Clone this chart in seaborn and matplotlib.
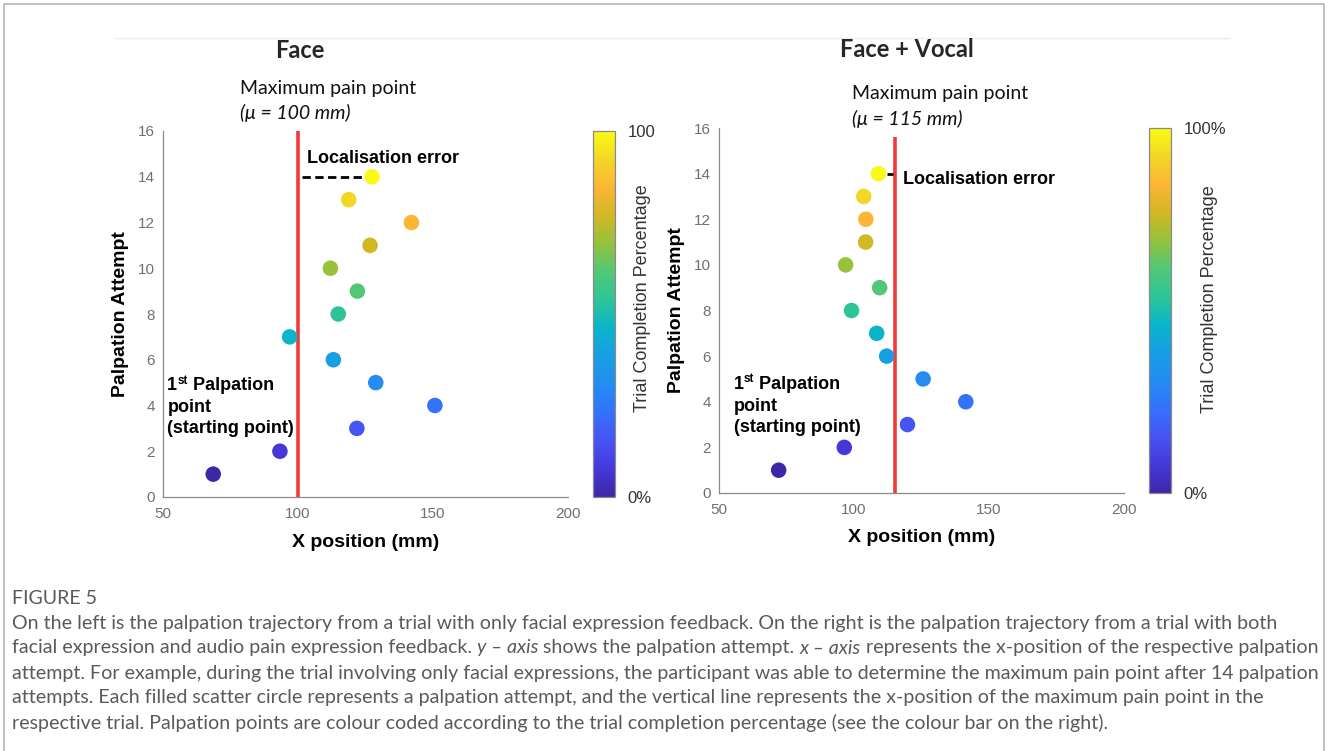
import matplotlib
matplotlib.use("Agg")
import matplotlib.pyplot as plt
from matplotlib.colors import LinearSegmentedColormap, Normalize
from matplotlib.cm import ScalarMappable
from matplotlib.font_manager import FontProperties
from matplotlib.transforms import IdentityTransform
from matplotlib.ticker import FixedLocator
from matplotlib.lines import Line2D
import seaborn as sns
import pandas as pd

# ---------------- data ----------------
attempts = list(range(1, 15))
face_x = [68.6, 93.3, 121.8, 150.7, 128.8, 113.1, 96.9, 114.9, 122.0, 112.0, 126.7, 142.0, 118.8, 127.4]
vocal_x = [72.1, 96.4, 119.8, 141.4, 125.6, 112.1, 108.4, 99.1, 109.5, 96.9, 104.3, 104.4, 103.6, 109.1]
peak_x = [100, 115]
peak_line_top = [16, 15.6]
error_start = [101.3, 112.4]
error_end = [125.1, 114.5]
error_y = [14, 14]
titles = ["Face", "Face + Vocal"]
peak_title = "Maximum pain point"
peak_labels = ["(\u03bc = 100 mm)", "(\u03bc = 115 mm)"]
cbar_top_labels = ["100", "100%"]
cbar_bottom_label = "0%"
cbar_label = "Trial Completion Percentage"
x_label = "X position (mm)"
y_label = "Palpation Attempt"
error_label = "Localisation error"
x_ticks = [50, 100, 150, 200]
y_ticks = [0, 2, 4, 6, 8, 10, 12, 14, 16]

caption_title = "FIGURE 5"
caption_lines = [
    [("On the left is the palpation trajectory from a trial with only facial expression feedback. On the right is the palpation trajectory from a trial with both", False)],
    [("facial expression and audio pain expression feedback. ", False), ("y \u2013 axis", True),
     (" shows the palpation attempt. ", False), ("x \u2013 axis", True),
     (" represents the x-position of the respective palpation", False)],
    [("attempt. For example, during the trial involving only facial expressions, the participant was able to determine the maximum pain point after 14 palpation", False)],
    [("attempts. Each filled scatter circle represents a palpation attempt, and the vertical line represents the x-position of the maximum pain point in the", False)],
    [("respective trial. Palpation points are colour coded according to the trial completion percentage (see the colour bar on the right).", False)],
]

# parula-like colormap (anchor position, colour)
parula_anchors = [
    (0.000, (0.24, 0.15, 0.66)),
    (0.077, (0.27, 0.22, 0.85)),
    (0.154, (0.28, 0.33, 0.96)),
    (0.231, (0.20, 0.45, 0.98)),
    (0.308, (0.14, 0.55, 0.95)),
    (0.385, (0.09, 0.62, 0.89)),
    (0.462, (0.04, 0.71, 0.79)),
    (0.538, (0.18, 0.77, 0.60)),
    (0.615, (0.32, 0.78, 0.47)),
    (0.692, (0.58, 0.76, 0.24)),
    (0.769, (0.82, 0.72, 0.14)),
    (0.846, (0.99, 0.71, 0.21)),
    (0.923, (0.95, 0.84, 0.15)),
    (1.000, (0.98, 0.98, 0.08)),
]
parula = LinearSegmentedColormap.from_list("parula", parula_anchors)

# ---------------- style ----------------
sns.set_theme(style="white")
plt.rcParams["font.family"] = ["Liberation Sans", "DejaVu Sans"]
ARIAL = ["Liberation Sans", "DejaVu Sans"]
CALIBRI = ["Lato", "DejaVu Sans"]
CAPTION_FONT = ["Lato", "DejaVu Sans"]

W, H = 1328, 751
fig = plt.figure(figsize=(W / 100, H / 100), dpi=100)
fig.patch.set_facecolor("white")
renderer = fig.canvas.get_renderer()


def rect(x0, y0, x1, y1):
    return [x0 / W, 1 - y1 / H, (x1 - x0) / W, (y1 - y0) / H]


def text_width(s, fp):
    w1, _, _ = renderer.get_text_width_height_descent(s + "|", fp, ismath=False)
    w2, _, _ = renderer.get_text_width_height_descent("|", fp, ismath=False)
    return w1 - w2


def place_runs(x, y, runs):
    """runs: list of (text, font dict, dy_px). x, y in display pixels."""
    cur = x
    for s, kw, dy in runs:
        fp = FontProperties(family=kw.get("family"), size=kw.get("size"),
                            weight=kw.get("weight", "normal"), style=kw.get("style", "normal"))
        fig.text(cur, y + dy, s, transform=IdentityTransform(), fontproperties=fp,
                 color=kw.get("color", "black"), ha="left", va="center")
        cur += text_width(s, fp)


# faint rule at the top (drawn first so it stays behind the titles)
fig.add_artist(Line2D([115 / W, 1230 / W], [1 - 38 / H, 1 - 38 / H],
                      transform=fig.transFigure, color="#ededed", lw=1, zorder=0))

layouts = [
    dict(ax=rect(163, 131, 568, 497), cax=rect(593, 131, 615, 497),
         title_xy=(0.338, 1.221), peak_xy=(78.4, 17.86, 16.8), err_xy=(103.3, 14.8),
         first_xy=(51.6, 4.87, 3.93, 2.98), cbar_label_xy=(2.27, 0.544), dashed=True),
    dict(ax=rect(719, 128, 1124, 493), cax=rect(1149, 128, 1171, 493),
         title_xy=(0.464, 1.214), peak_xy=(99.3, 17.5, 16.4), err_xy=(118.1, 13.73),
         first_xy=(55.4, 4.76, 3.8, 2.87), cbar_label_xy=(2.75, 0.53), dashed=False),
]
xs_all = [face_x, vocal_x]
norm = Normalize(vmin=attempts[0], vmax=attempts[-1])

for i, lay in enumerate(layouts):
    ax = fig.add_axes(lay["ax"])
    df = pd.DataFrame({"x": xs_all[i], "attempt": attempts})
    sns.scatterplot(data=df, x="x", y="attempt", hue="attempt", palette=parula,
                    hue_norm=(attempts[0], attempts[-1]), s=125, linewidth=0,
                    legend=False, ax=ax, zorder=3)
    ax.plot([peak_x[i], peak_x[i]], [0, peak_line_top[i]], color="#f23a3a", lw=2.6,
            zorder=2, solid_capstyle="butt")
    if lay["dashed"]:
        ax.plot([error_start[i], error_end[i]], [error_y[i], error_y[i]], color="black",
                lw=2.0, ls=(0, (3, 1.6)), zorder=2)
    else:
        ax.plot([error_start[i], error_end[i]], [error_y[i], error_y[i]], color="black",
                lw=2.0, zorder=2, solid_capstyle="butt")
    ax.set_xlim(50, 200)
    ax.set_ylim(0, 16)
    ax.set_xticks(x_ticks)
    ax.set_yticks(y_ticks)
    for side in ["top", "right"]:
        ax.spines[side].set_visible(False)
    for side in ["left", "bottom"]:
        ax.spines[side].set_color("#8a8a8a")
        ax.spines[side].set_linewidth(0.9)
    ax.tick_params(axis="both", direction="in", length=4, width=0.8, color="#8a8a8a",
                   labelcolor="#707070", labelsize=11)
    ax.tick_params(axis="y", pad=6)
    ax.tick_params(axis="x", pad=7)
    ax.set_xlabel(x_label, fontsize=14, fontweight="bold", family=ARIAL, color="black")
    ax.set_ylabel(y_label, fontsize=14, fontweight="bold", family=ARIAL, color="black")
    ax.xaxis.set_label_coords(0.5, -0.10)
    ax.yaxis.set_label_coords(-0.083, 0.5)
    ax.set_facecolor("white")

    # titles & annotations
    ax.text(lay["title_xy"][0], lay["title_xy"][1], titles[i], transform=ax.transAxes,
            ha="center", va="center", fontsize=17, fontweight="bold", family=CALIBRI)
    px, py1, py2 = lay["peak_xy"]
    ax.text(px, py1, peak_title, ha="left", va="center", fontsize=14, family=CALIBRI,
            color="#111111", clip_on=False)
    ax.text(px, py2, peak_labels[i], ha="left", va="center", fontsize=14, family=CALIBRI,
            style="italic", color="#111111", clip_on=False)
    ax.text(lay["err_xy"][0], lay["err_xy"][1], error_label, ha="left", va="center",
            fontsize=13, fontweight="bold", family=ARIAL, color="black")

    fx, fy1, fy2, fy3 = lay["first_xy"]
    bold13 = dict(family=ARIAL, size=13, weight="bold")
    bold8 = dict(family=ARIAL, size=8.5, weight="bold")
    x0, y0 = ax.transData.transform((fx, fy1))
    place_runs(x0, y0, [("1", bold13, 0), ("st", bold8, 5), (" Palpation", bold13, 0)])
    x0, y0 = ax.transData.transform((fx, fy2))
    place_runs(x0, y0, [("point", bold13, 0)])
    x0, y0 = ax.transData.transform((fx, fy3))
    place_runs(x0, y0, [("(starting point)", bold13, 0)])

    # colorbar
    cax = fig.add_axes(lay["cax"])
    cb = fig.colorbar(ScalarMappable(norm=norm, cmap=parula), cax=cax)
    cb.outline.set_edgecolor("#8a8a8a")
    cb.outline.set_linewidth(0.9)
    cb.set_ticks([attempts[0], attempts[-1]])
    cb.set_ticklabels([cbar_bottom_label, cbar_top_labels[i]])
    cax.yaxis.set_minor_locator(FixedLocator([attempts[0] + (attempts[-1] - attempts[0]) * k / 7 for k in range(1, 7)]))
    cax.tick_params(which="major", length=0, labelsize=12, labelcolor="#333333", pad=9)
    cax.tick_params(which="minor", direction="in", length=3, width=0.9, color="#555555",
                    right=True, left=False)
    cax.text(lay["cbar_label_xy"][0], lay["cbar_label_xy"][1], cbar_label,
             transform=cax.transAxes, rotation=90, ha="center", va="center",
             fontsize=13, color="#333333", family=ARIAL)

# ---------------- caption ----------------
cap_color = "#5a5a5a"
fp_test = FontProperties(family=CAPTION_FONT, size=12)
w_line3 = text_width(caption_lines[2][0][0], fp_test)
cap_size = 12 * 1300 / w_line3

place_runs(12, H - 598, [(caption_title, dict(family=CAPTION_FONT, size=cap_size, color=cap_color), 0)])
for j, line in enumerate(caption_lines):
    runs = [(s, dict(family=CAPTION_FONT, size=cap_size, color=cap_color,
                     style="italic" if it else "normal"), 0) for s, it in line]
    place_runs(12, H - (623 + 25 * j), runs)

# frame
frame = dict(transform=fig.transFigure, color="#b8b8b8", lw=1.2)
fig.add_artist(Line2D([4 / W, 4 / W], [0, 1 - 4 / H], **frame))
fig.add_artist(Line2D([4 / W, 1324 / W], [1 - 4 / H, 1 - 4 / H], **frame))
fig.add_artist(Line2D([1324 / W, 1324 / W], [0, 1 - 4 / H], **frame))

fig.savefig("out.png", dpi=100, facecolor="white")
